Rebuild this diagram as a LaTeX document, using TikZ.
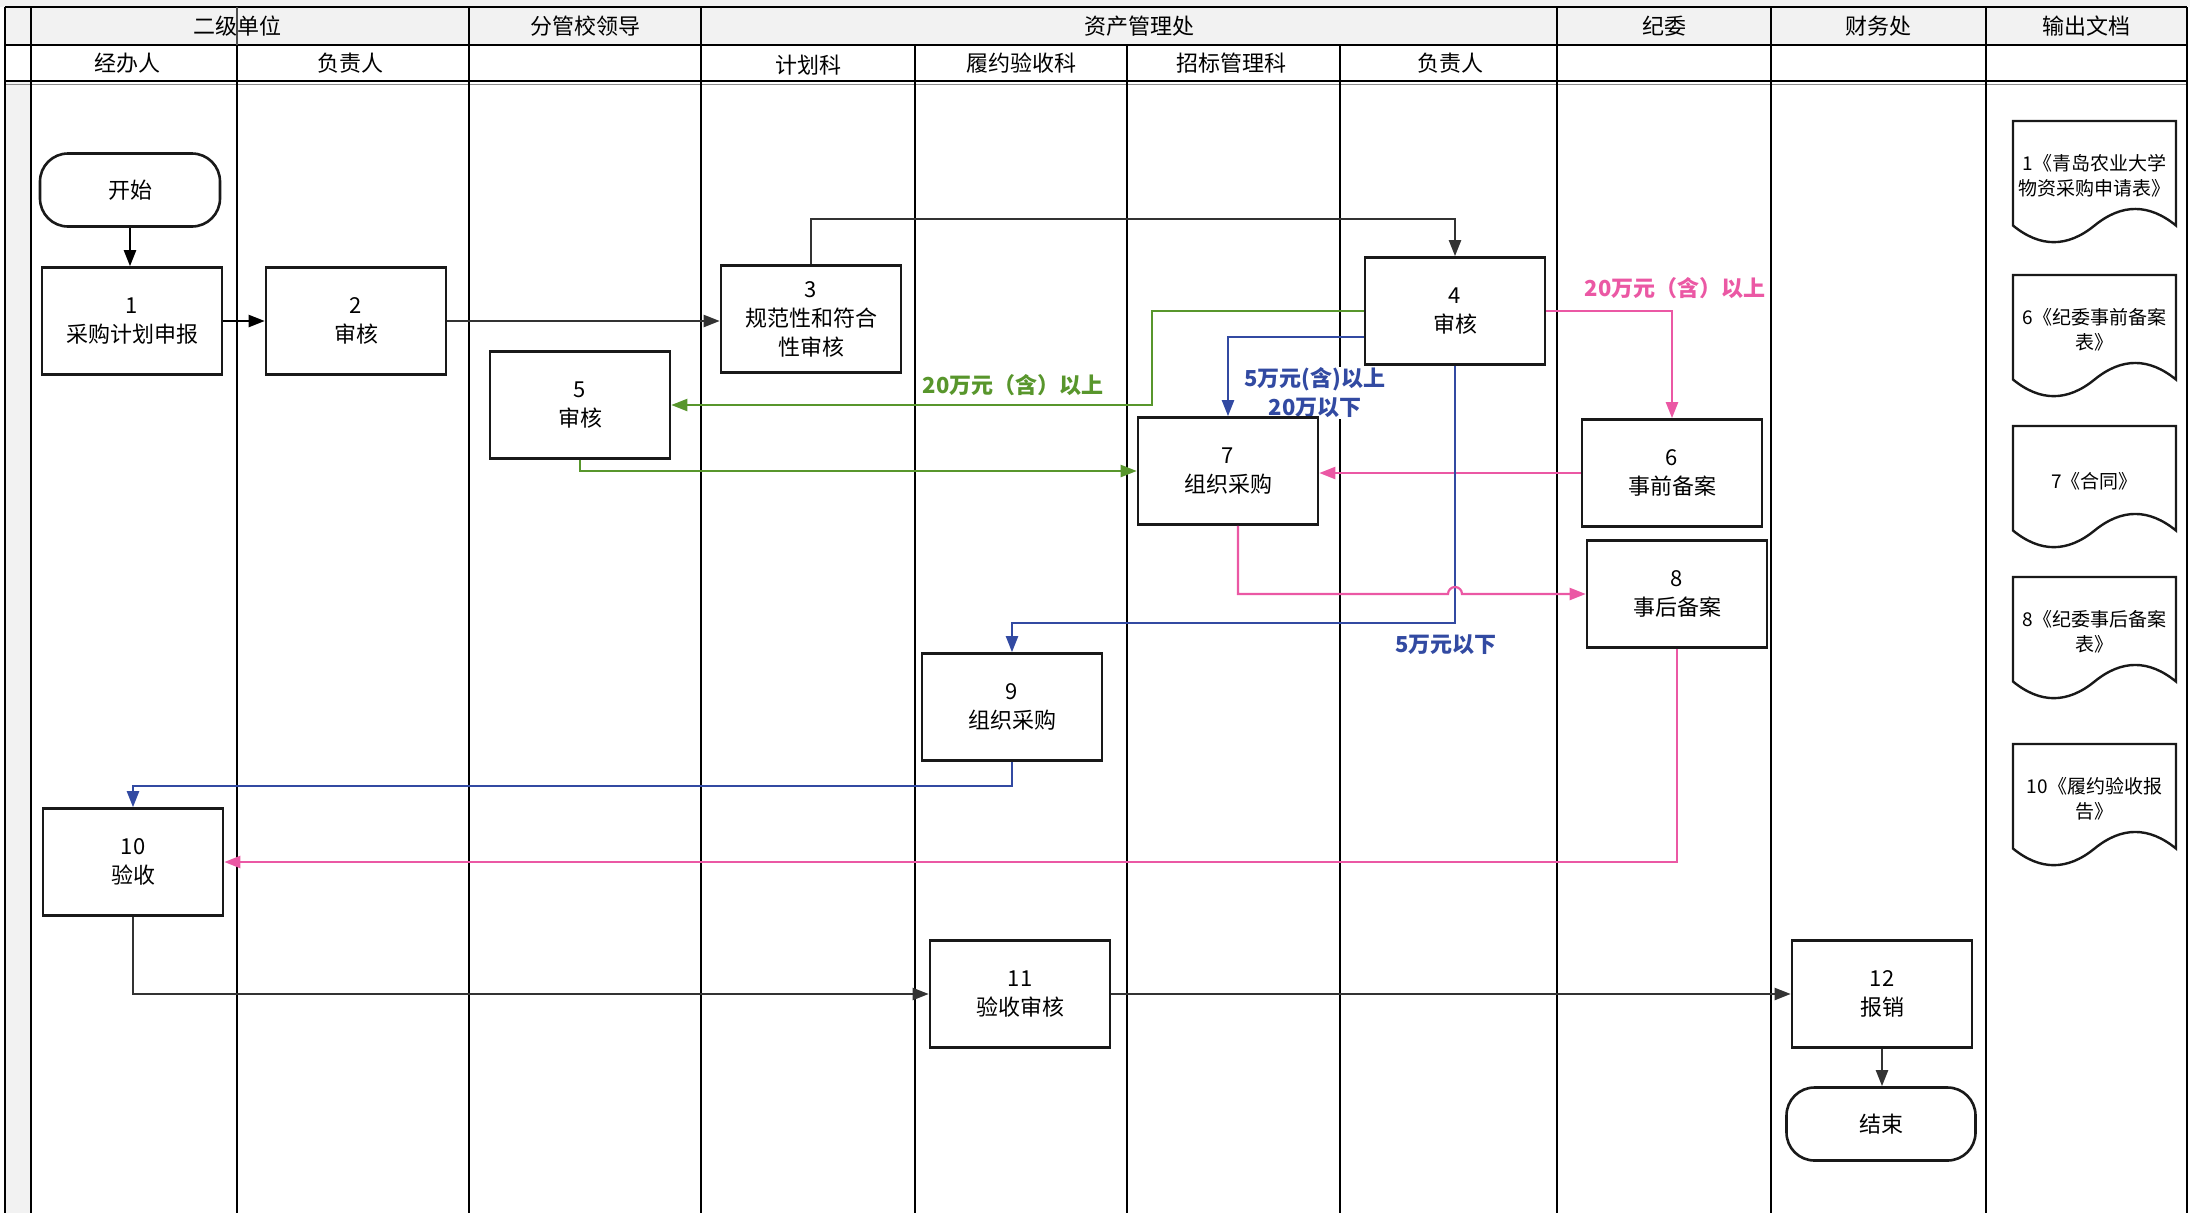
\documentclass[tikz,border=0pt]{standalone}
\usepackage{fontspec}
\setmainfont{Noto Sans CJK SC}
\usetikzlibrary{arrows.meta}
\definecolor{gline}{RGB}{88,150,44}
\definecolor{pline}{RGB}{235,88,164}
\definecolor{bline}{RGB}{50,74,162}
\definecolor{dline}{RGB}{51,51,51}
\definecolor{hdr}{RGB}{242,242,242}
\newcommand\docshape[2]{%
  \draw[docline] (#1,#2) -- ({#1+163},#2) -- ({#1+163},{#2+104.55})
    .. controls ({#1+135.8},{#2+82.41}) and ({#1+108.7},{#2+82.41}) .. ({#1+81.5},{#2+104.55})
    .. controls ({#1+54.3},{#2+126.69}) and ({#1+27.2},{#2+126.69}) .. (#1,{#2+104.55}) -- cycle;}
\begin{document}
\begin{tikzpicture}[x=1pt,y=-1pt,
  lane/.style={line width=2.6pt, draw=black},
  thinlane/.style={line width=1.2pt, draw=black!70},
  box/.style={draw=black!90, line width=2.6pt, fill=white, minimum width=180pt,
    minimum height=107pt, inner sep=0pt, align=center, font=\fontsize{22}{29}\selectfont},
  term/.style={box, rounded corners=28pt, minimum height=73pt},
  hdrtext/.style={font=\fontsize{22}{26}\selectfont, inner sep=0pt},
  doctext/.style={font=\fontsize{19}{25}\selectfont, align=center, inner sep=0pt},
  docline/.style={line width=2.4pt, draw=black!90, fill=white},
  conn/.style={line width=2.2pt, -{Triangle[length=16pt,width=12pt]}},
  lbl/.style={font=\bfseries\fontsize{22}{29}\selectfont, fill=white, inner xsep=5pt, inner ysep=1pt, align=center}
]
\useasboundingbox (0,0) rectangle (2190,1213);
% backgrounds
\fill[hdr] (0,0) rectangle (2190,7);
\fill[hdr] (5,7) rectangle (2187,45);
\fill[hdr] (5,81) rectangle (31,1213);
\draw[line width=1.2pt, draw=black!45] (5,84.5) -- (2187,84.5);
% horizontal header lines
\draw[lane] (5,7) -- (2187,7);
\draw[lane] (5,45) -- (2187,45);
\draw[lane] (5,81) -- (2187,81);
% vertical lines
\foreach \x in {5,31,469,701,1557,1771,1986,2187} \draw[lane] (\x,7) -- (\x,1213);
\foreach \x in {237,915,1127,1340} \draw[lane] (\x,45) -- (\x,1213);
\draw[thinlane] (237,7) -- (237,45);
% header texts
\node[hdrtext] (h1) at (237,26) {二级单位};
\node[hdrtext] (h2) at (585,26) {分管校领导};
\node[hdrtext] (h3) at (1139,26) {资产管理处};
\node[hdrtext] (h4) at (1664,26) {纪委};
\node[hdrtext] (h5) at (1878,26) {财务处};
\node[hdrtext] (h6) at (2086,26) {输出文档};
\node[hdrtext] (s1) at (127,63) {经办人};
\node[hdrtext] (s2) at (350,63) {负责人};
\node[hdrtext] (s3) at (808,65) {计划科};
\node[hdrtext] (s4) at (1021,63) {履约验收科};
\node[hdrtext] (s5) at (1231,63) {招标管理科};
\node[hdrtext] (s6) at (1450,63) {负责人};
% labels
\node[lbl, text=gline] (lg) at (1013,385) {20万元（含）以上};
\node[lbl, text=pline] (lp) at (1675,288) {20万元（含）以上};
\node[lbl, text=bline] (lb1) at (1315,393) {5万元(含)以上\\20万以下};
\node[lbl, text=bline] (lb2) at (1446,645) {5万元以下};
% nodes
\node[term, minimum width=180pt] (start) at (130,190) {开始};
\node[box] (b1) at (132,321) {1\\采购计划申报};
\node[box] (b2) at (356,321) {2\\审核};
\node[box] (b3) at (811,319) {3\\规范性和符合\\性审核};
\node[box] (b4) at (1455,311) {4\\审核};
\node[box] (b5) at (580,405) {5\\审核};
\node[box] (b7) at (1228,471) {7\\组织采购};
\node[box] (b6) at (1672,473) {6\\事前备案};
\node[box] (b8) at (1677,594) {8\\事后备案};
\node[box] (b9) at (1012,707) {9\\组织采购};
\node[box] (b10) at (133,862) {10\\验收};
\node[box] (b11) at (1020,994) {11\\验收审核};
\node[box] (b12) at (1882,994) {12\\报销};
\node[term, minimum width=189pt] (end) at (1881,1124) {结束};
% documents
\docshape{2013}{121}
\node[doctext] (d1) at (2094.5,176) {1《青岛农业大学\\物资采购申请表》};
\docshape{2013}{275}
\node[doctext] (d6) at (2094.5,330) {6《纪委事前备案\\表》};
\docshape{2013}{426}
\node[doctext] (d7) at (2094.5,481) {7《合同》};
\docshape{2013}{577}
\node[doctext] (d8) at (2094.5,632) {8《纪委事后备案\\表》};
\docshape{2013}{744}
\node[doctext] (d10) at (2094.5,799) {10《履约验收报\\告》};
% coordinates
\coordinate (c34) at (1455,219);
\coordinate (gx) at (1152,405);
\coordinate (hop) at (1455,594);
\coordinate (bl9) at (1012,623);
\coordinate (bl10) at (133,786);
% connectors
\draw[conn, black] (start.south) -- (start.south |- b1.north);
\draw[conn, black] (b1) -- (b2);
\draw[conn, dline] (b2.east) -- (b2.east -| b3.west);
\draw[conn, dline] (b3.north) |- (c34) -- (b4.north);
\draw[conn, gline] (b4.west) -| (gx) -- (b5.east);
\draw[conn, bline] ([yshift=-26pt]b4.west) -| (b7.north);
\draw[conn, pline] (b4.east) -| (b6.north);
\draw[conn, gline] (b5.south) |- (b7.west);
\draw[conn, pline] (b6.west) -- (b6.west -| b7.east);
\draw[conn, bline] (b4.south) |- (bl9) -- (b9.north);
\draw[conn, pline] ([xshift=10pt]b7.south) |- ([xshift=-7pt]hop) arc[start angle=180, end angle=0, radius=7pt] -- (b8.west);
\draw[conn, bline] (b9.south) |- (bl10) -- (b10.north);
\draw[conn, pline] (b8.south) |- (b10.east);
\draw[conn, dline] (b10.south) |- (b11.west);
\draw[conn, dline] (b11) -- (b12);
\draw[conn, dline] (b12.south) -- (b12.south |- end.north);
\end{tikzpicture}
\end{document}
